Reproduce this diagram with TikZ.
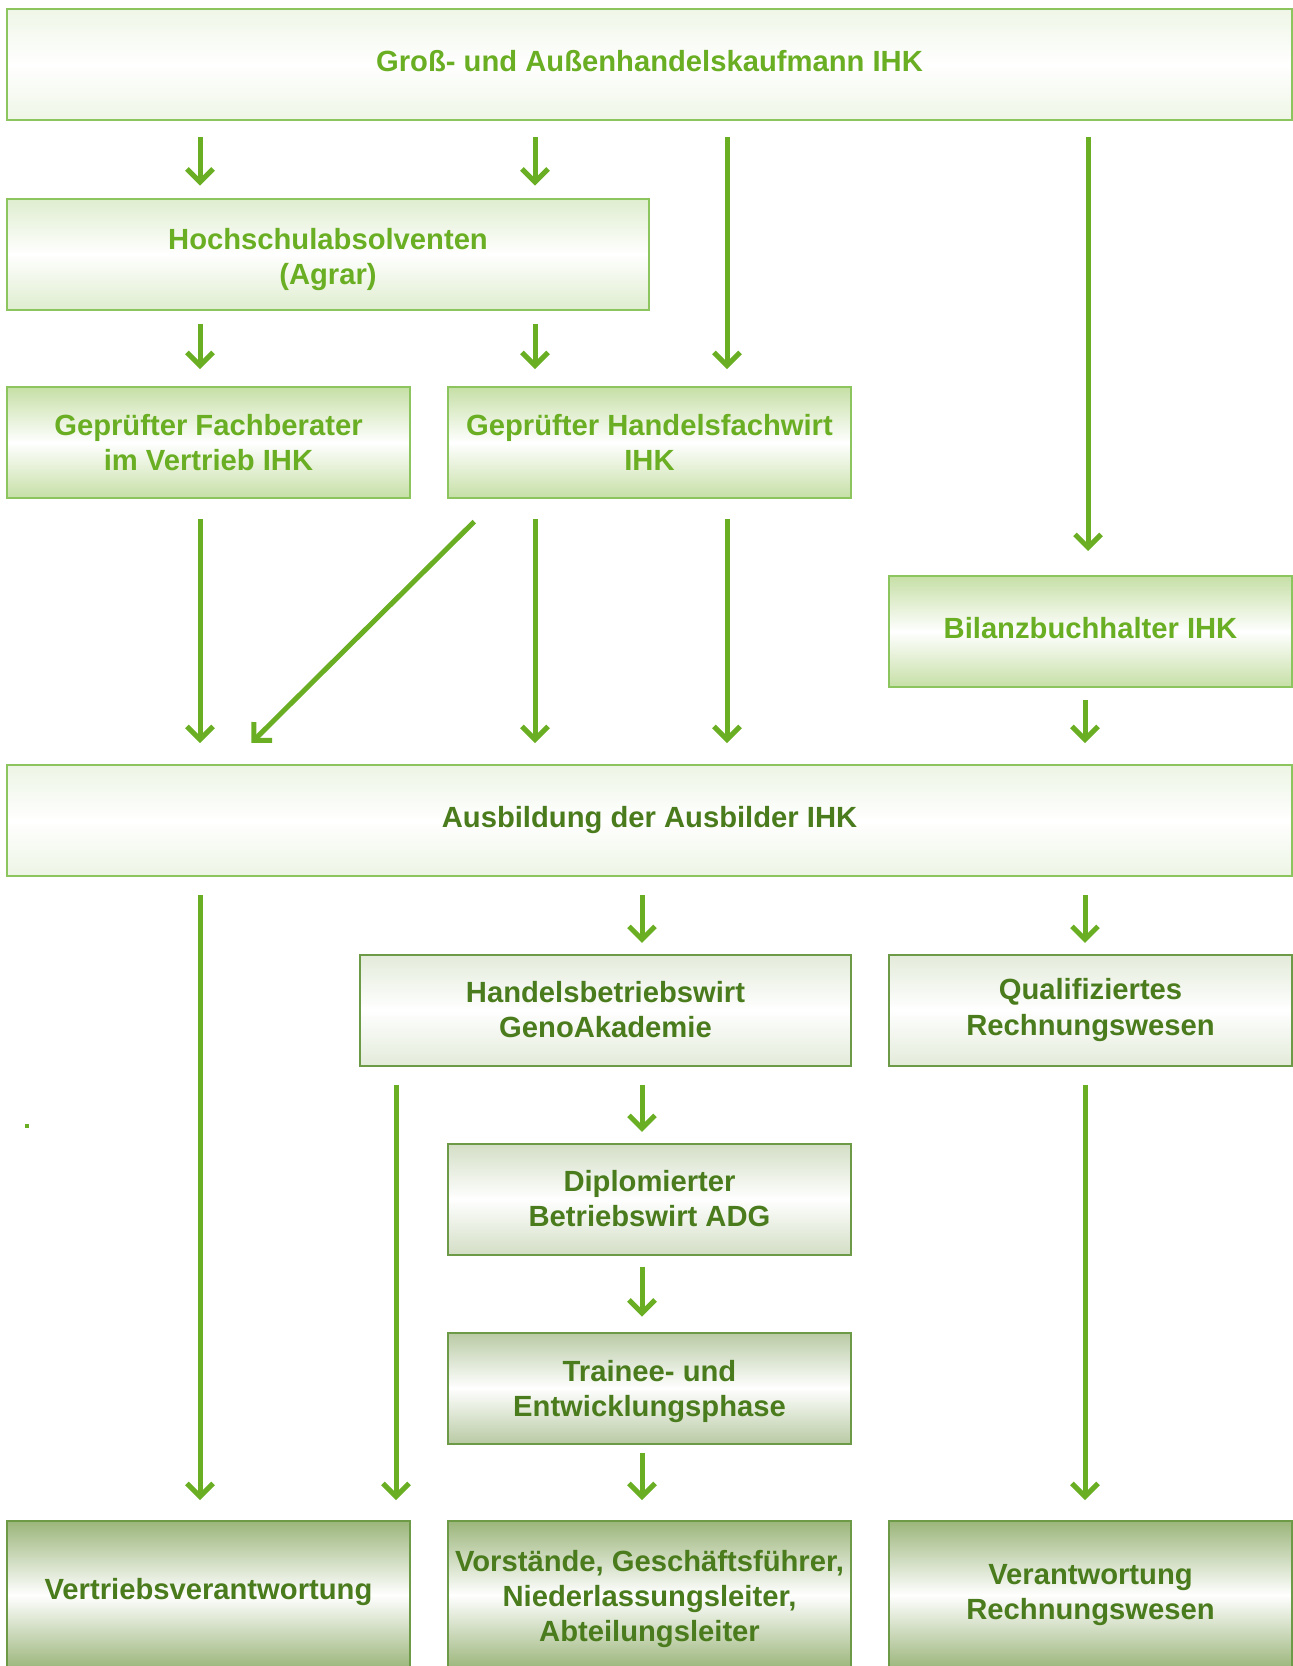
\documentclass[tikz,border=0pt]{standalone}
\usepackage{fontspec}
\setmainfont{Liberation Sans}
\usepackage{xcolor}
\definecolor{gruen}{HTML}{6AAF23}
\definecolor{dunkelgruen}{HTML}{4A7B1C}
\definecolor{randhell}{HTML}{8CC45E}
\definecolor{randdunkel}{HTML}{6C9A46}
\definecolor{fgross}{HTML}{EFF6E7}
\definecolor{fhoch}{HTML}{DFEDCF}
\definecolor{fmittel}{HTML}{C6DFA6}
\definecolor{fausb}{HTML}{EDF5E5}
\definecolor{fgrau}{HTML}{E3EBDA}
\definecolor{fdipl}{HTML}{D3DEC5}
\definecolor{ftrainee}{HTML}{B9CAA4}
\definecolor{fziel}{HTML}{9BB57A}
\usepackage{tikz}
\usetikzlibrary{arrows.meta, positioning}

\begin{document}
\begin{tikzpicture}[x=0.5pt, y=-0.5pt,
	kasten/.style={rectangle, line width=1pt, align=center, inner sep=0pt,
	               minimum height=55.5pt, font=\fontsize{14.6}{17.5}\selectfont\bfseries},
	hell/.style={kasten, draw=randhell, text=gruen, top color=#1, bottom color=#1, middle color=white},
	grau/.style={kasten, draw=randdunkel, text=dunkelgruen, top color=#1, bottom color=#1, middle color=white},
	tiefer/.style={execute at begin node={\rule{0pt}{#1}}},
	arr/.style={-{Straight Barb[length=6.5pt,width=13pt]}, draw=gruen, line width=2.5pt}
	]
\clip (0,0) rectangle (1293,1666);

% obere Reihe
\node[hell=fgross, text depth=3.5pt, minimum width=642.5pt] (gross) at (649.5,64.5)
  {Groß- und Außenhandelskaufmann IHK};
\node[hell=fhoch, tiefer=33.5pt, minimum width=321pt] (hoch) at (328,254)
  {Hochschulabsolventen\\(Agrar)};
\node[hell=fmittel, minimum width=201.5pt] (fach) at (208.5,442.5)
  {Geprüfter Fachberater\\im Vertrieb IHK};
\node[hell=fmittel, minimum width=201.5pt] (hfw) at (649.5,442.5)
  {Geprüfter Handelsfachwirt\\IHK};
\node[hell=fmittel, text depth=3.5pt, minimum width=201.5pt] (bilanz) at (1090.5,631.5)
  {Bilanzbuchhalter IHK};
\node[hell=fausb, text=dunkelgruen, minimum width=642.5pt] (ausb) at (649.5,820.5)
  {Ausbildung der Ausbilder IHK};

% untere Reihe
\node[grau=fgrau, minimum width=245.5pt] (hbw) at (605.5,1010)
  {Handelsbetriebswirt\\GenoAkademie};
\node[grau=fgrau, minimum width=201.5pt] (qual) at (1090.5,1010)
  {Qualifiziertes\\Rechnungswesen};
\node[grau=fdipl, minimum width=201.5pt] (dipl) at (649.5,1199)
  {Diplomierter\\Betriebswirt ADG};
\node[grau=ftrainee, tiefer=31.3pt, minimum width=201.5pt] (trainee) at (649.5,1388)
  {Trainee- und\\Entwicklungsphase};
\node[grau=fziel, text depth=6.3pt, minimum height=74pt, minimum width=201.5pt] (vertr) at (208.5,1595)
  {Vertriebsverantwortung};
\node[grau=fziel, tiefer=49.8pt, minimum height=74pt, minimum width=201.5pt] (vorst) at (649.5,1595)
  {Vorstände, Geschäftsführer,\\Niederlassungsleiter,\\Abteilungsleiter};
\node[grau=fziel, minimum height=74pt, minimum width=201.5pt] (rewe) at (1090.5,1595)
  {Verantwortung\\Rechnungswesen};

% Spalten der Pfeile
\coordinate (k1) at (200,0);
\coordinate (k2) at (535,0);
\coordinate (k3) at (727,0);
\coordinate (k4) at (1088,0);
\coordinate (k5) at (1085,0);
\coordinate (k6) at (642,0);
\coordinate (k7) at (396,0);
\coordinate (d1) at (497,0);
\coordinate (d2) at (230,0);

% von / nach / Spalte / Abstand oben / Abstand unten
\foreach \a/\b/\k/\s/\e in {gross/hoch/k1/8/6, gross/hoch/k2/8/6, gross/hfw/k3/8/8.5, gross/bilanz/k4/8/12,
                      hoch/fach/k1/6.5/8.5, hoch/hfw/k2/6.5/8.5, fach/ausb/k1/10/10.5, hfw/ausb/k2/10/10.5,
                      hfw/ausb/k3/10/10.5, bilanz/ausb/k5/6/10.5, ausb/vertr/k1/9/10, ausb/hbw/k6/9/5.3,
                      ausb/qual/k5/9/5.3, hbw/vertr/k7/9/10, hbw/dipl/k6/9/5.3, dipl/trainee/k6/5.5/7.5,
                      trainee/vorst/k6/4/10, qual/rewe/k5/9/10}
  \draw[arr, shorten <=\s pt, shorten >=\e pt] (\a.south -| \k) -- (\b.north -| \k);
\draw[arr, shorten <=16pt, shorten >=15pt] (hfw.south -| d1) -- (ausb.north -| d2);

\fill[gruen] (25,1124) rectangle (29,1128);
\end{tikzpicture}
\end{document}
